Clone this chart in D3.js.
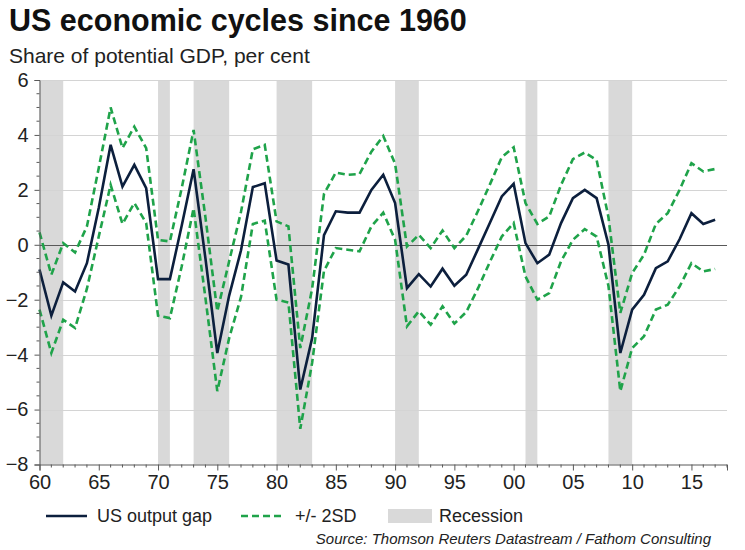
<!DOCTYPE html>
<html><head><meta charset="utf-8">
<script src="https://cdn.jsdelivr.net/npm/d3@7"></script>
<style>
html,body{margin:0;padding:0;background:#fff;}
text{font-family:"Liberation Sans",Arial,sans-serif;}
</style></head>
<body><svg id="c" width="745" height="550"></svg>
<script>
const years = d3.range(1960, 2018);
const outputGap = [-0.9,-2.58,-1.37,-1.7,-0.67,1.35,3.64,2.12,2.91,2.06,
 -1.25,-1.25,0.7,2.75,-0.5,-3.94,-1.85,-0.2,2.1,2.24,
 -0.57,-0.72,-5.27,-3.4,0.35,1.22,1.17,1.17,2.0,2.55,
 1.52,-1.58,-1.07,-1.52,-0.87,-1.49,-1.09,-0.15,0.8,1.76,
 2.22,0.06,-0.67,-0.36,0.79,1.7,2.0,1.7,0.0,-3.94,
 -2.36,-1.82,-0.85,-0.6,0.2,1.15,0.76,0.91];
const upper2SD = [0.45,-1.09,0.06,-0.28,0.67,2.8,5.0,3.52,4.3,3.52,
 0.18,0.12,2.07,4.18,1.0,-2.42,-0.6,1.2,3.48,3.64,
 0.85,0.67,-3.76,-1.6,1.85,2.63,2.55,2.58,3.39,3.96,
 2.95,-0.06,0.36,-0.12,0.52,-0.12,0.33,1.24,2.2,3.19,
 3.55,1.52,0.76,1.03,2.18,3.12,3.36,3.09,1.0,-2.48,
 -1.03,-0.36,0.76,1.15,2.0,2.97,2.67,2.76];
const lower2SD = [-2.36,-3.94,-2.73,-3.03,-1.6,0.3,2.18,0.76,1.52,0.79,
 -2.58,-2.67,-0.78,1.33,-1.94,-5.33,-3.4,-1.9,0.76,0.88,
 -2.0,-2.1,-6.7,-4.3,-0.95,-0.12,-0.18,-0.24,0.67,1.17,
 0.18,-2.97,-2.42,-2.91,-2.24,-2.87,-2.45,-1.58,-0.62,0.3,
 0.79,-1.15,-2.0,-1.76,-0.6,0.18,0.57,0.3,-1.5,-5.33,
 -3.76,-3.33,-2.36,-2.18,-1.52,-0.67,-0.97,-0.88];
const recessions = [[1960,1962],[1970,1971],[1973,1976],[1980,1983],[1990,1992],[2001,2002],[2008,2010]];
const yTicks = [-8,-6,-4,-2,0,2,4,6];
const xTicks = [1960,1965,1970,1975,1980,1985,1990,1995,2000,2005,2010,2015];

const svg = d3.select("#c");
const L = 39.5, R = 727, T = 80, B = 464.5;
const x = d3.scaleLinear().domain([1960, 2018]).range([L, R]);
const y = d3.scaleLinear().domain([-8, 6]).range([B, T]);

const navy = "#0c1f3d", green = "#1fa34a", grey = "#d9d9d9", axisc = "#595959";

svg.append("g").selectAll("rect").data(recessions).join("rect")
  .attr("x", d => x(d[0])).attr("width", d => x(d[1]) - x(d[0]))
  .attr("y", T).attr("height", B - T).attr("fill", grey);

svg.append("g").selectAll("line").data(yTicks.filter(v => v !== 0 && v !== -8)).join("line")
  .attr("x1", L).attr("x2", R).attr("y1", d => Math.round(y(d)) + 0.5).attr("y2", d => Math.round(y(d)) + 0.5)
  .attr("stroke", "#d4d4d4").attr("stroke-width", 1);
svg.append("line").attr("x1", L).attr("x2", R).attr("y1", Math.round(y(0)) + 0.5).attr("y2", Math.round(y(0)) + 0.5)
  .attr("stroke", axisc).attr("stroke-width", 1);

const line = arr => d3.line().x((d, i) => x(years[i])).y(d => y(d))(arr);
svg.append("path").attr("d", line(upper2SD)).attr("fill", "none").attr("stroke", green)
  .attr("stroke-width", 2.6).attr("stroke-dasharray", "7,4");
svg.append("path").attr("d", line(lower2SD)).attr("fill", "none").attr("stroke", green)
  .attr("stroke-width", 2.6).attr("stroke-dasharray", "7,4");
svg.append("path").attr("d", line(outputGap)).attr("fill", "none").attr("stroke", navy)
  .attr("stroke-width", 2.6).attr("stroke-linejoin", "miter");

const yAxis = d3.axisLeft(y).tickValues(yTicks).tickSize(5).tickPadding(6).tickFormat(d3.format("d"));
const gy = svg.append("g").attr("transform", `translate(${L},0)`).call(yAxis);
gy.select(".domain").attr("stroke", axisc);
gy.selectAll(".tick line").attr("stroke", axisc);
gy.selectAll("text").attr("font-size", 20).attr("fill", "#222").attr("font-family", "Liberation Sans, Arial, sans-serif");
const yMinor = d3.range(-8, 6.01, 0.5).filter(v => !yTicks.includes(v));
svg.append("g").selectAll("line").data(yMinor).join("line")
  .attr("x1", L - 3).attr("x2", L).attr("y1", d => y(d)).attr("y2", d => y(d)).attr("stroke", axisc);

const xAxis = d3.axisBottom(x).tickValues(xTicks).tickSize(6).tickPadding(4)
  .tickFormat(d => String(d % 100).padStart(2, "0"));
const gx = svg.append("g").attr("transform", `translate(0,${B})`).call(xAxis);
gx.select(".domain").attr("stroke", axisc);
gx.selectAll(".tick line").attr("stroke", axisc);
gx.selectAll("text").attr("font-size", 20).attr("fill", "#222").attr("font-family", "Liberation Sans, Arial, sans-serif");
const xMinor = d3.range(1961, 2019).filter(v => !xTicks.includes(v));
svg.append("g").selectAll("line").data(xMinor).join("line")
  .attr("x1", d => x(d)).attr("x2", d => x(d)).attr("y1", B).attr("y2", B + 3).attr("stroke", axisc);

svg.append("text").attr("x", 9).attr("y", 31).attr("font-size", 30.5).attr("font-weight", "bold")
  .attr("fill", "#111").text("US economic cycles since 1960");
svg.append("text").attr("x", 9).attr("y", 63).attr("font-size", 21).attr("fill", "#222")
  .text("Share of potential GDP, per cent");

const ly = 516;
svg.append("line").attr("x1", 46).attr("x2", 87).attr("y1", ly).attr("y2", ly).attr("stroke", navy).attr("stroke-width", 2.6);
svg.append("text").attr("x", 97).attr("y", ly + 6).attr("font-size", 18).attr("fill", "#222").text("US output gap");
svg.append("line").attr("x1", 241).attr("x2", 284).attr("y1", ly).attr("y2", ly).attr("stroke", green)
  .attr("stroke-width", 2.6).attr("stroke-dasharray", "7,4");
svg.append("text").attr("x", 295).attr("y", ly + 6).attr("font-size", 18).attr("fill", "#222").text("+/- 2SD");
svg.append("rect").attr("x", 388).attr("y", 509).attr("width", 44).attr("height", 14).attr("fill", grey);
svg.append("text").attr("x", 439).attr("y", ly + 6).attr("font-size", 18).attr("fill", "#222").text("Recession");
svg.append("text").attr("x", 711).attr("y", 544).attr("text-anchor", "end").attr("font-size", 15)
  .attr("font-style", "italic").attr("fill", "#222").text("Source: Thomson Reuters Datastream / Fathom Consulting");
</script></body></html>
